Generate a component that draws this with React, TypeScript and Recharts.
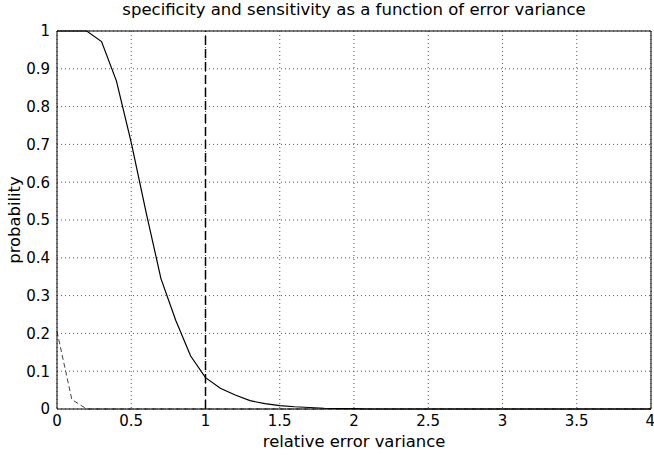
import { LineChart, Line, XAxis, YAxis, CartesianGrid, ReferenceLine, Label } from "recharts";

// relative error variance (x)
const variance = [
  0, 0.1, 0.2, 0.3, 0.4, 0.5, 0.6, 0.7, 0.8, 0.9,
  1, 1.1, 1.2, 1.3, 1.4, 1.5, 1.6, 1.7, 1.8, 1.9,
  2, 2.1, 2.2, 2.3, 2.4, 2.5, 2.6, 2.7, 2.8, 2.9,
  3, 3.1, 3.2, 3.3, 3.4, 3.5, 3.6, 3.7, 3.8, 3.9, 4,
];

// solid curve
const specificity = [
  1, 1, 1, 0.972, 0.868, 0.705, 0.52, 0.345, 0.234, 0.14,
  0.083, 0.055, 0.037, 0.022, 0.014, 0.009, 0.006, 0.004, 0.002, 0.001,
  0.001, 0, 0, 0, 0, 0, 0, 0, 0, 0,
  0, 0, 0, 0, 0, 0, 0, 0, 0, 0, 0,
];

// dashed curve
const sensitivity = [
  0.205, 0.025, 0, 0, 0, 0, 0, 0, 0, 0,
  0, 0, 0, 0, 0, 0, 0, 0, 0, 0,
  0, 0, 0, 0, 0, 0, 0, 0, 0, 0,
  0, 0, 0, 0, 0, 0, 0, 0, 0, 0, 0,
];

const xTicks = [0, 0.5, 1, 1.5, 2, 2.5, 3, 3.5, 4];
const yTicks = [0, 0.1, 0.2, 0.3, 0.4, 0.5, 0.6, 0.7, 0.8, 0.9, 1];

const data = variance.map((v, i) => ({
  v,
  spec: specificity[i],
  sens: sensitivity[i],
}));

const FONT = "'DejaVu Sans', sans-serif";

const YLabel = (props: any) => {
  const { x, y, height } = props.viewBox;
  const cx = x + 19.5;
  const cy = y + height / 2;
  return (
    <text
      x={cx}
      y={cy}
      transform={`rotate(-90 ${cx} ${cy})`}
      textAnchor="middle"
      fontFamily={FONT}
      fontSize={16.4}
      fill="#000"
    >
      probability
    </text>
  );
};

const XLabel = (props: any) => {
  const { x, y, width } = props.viewBox;
  return (
    <text
      x={x + width / 2}
      y={y + 38}
      textAnchor="middle"
      fontFamily={FONT}
      fontSize={16.4}
      fill="#000"
    >
      relative error variance
    </text>
  );
};

export default function App() {
  return (
    <div style={{ position: "absolute", left: 0, top: 0, width: 654, height: 455, background: "#fff" }}>
      <div
        style={{
          position: "absolute",
          left: 57,
          width: 594,
          top: 0,
          height: 20,
          lineHeight: "20px",
          textAlign: "center",
          fontFamily: FONT,
          fontSize: 16.5,
          color: "#000",
          whiteSpace: "nowrap",
        }}
      >
        specificity and sensitivity as a function of error variance
      </div>
      <LineChart width={654} height={455} data={data} margin={{ top: 31, right: 3, left: 0, bottom: 0 }}>
        <CartesianGrid stroke="#555" strokeDasharray="1 3" />
        <XAxis
          dataKey="v"
          type="number"
          domain={[0, 4]}
          ticks={xTicks}
          height={46}
          tickLine={false}
          tickSize={0}
          tickMargin={6}
          axisLine={{ stroke: "#000" }}
          tick={{ fill: "#000", fontSize: 15, fontFamily: FONT }}
        >
          <Label content={<XLabel />} />
        </XAxis>
        <YAxis
          type="number"
          domain={[0, 1]}
          ticks={yTicks}
          width={57}
          tickLine={false}
          tickSize={0}
          tickMargin={7}
          axisLine={{ stroke: "#000" }}
          tick={{ fill: "#000", fontSize: 15, fontFamily: FONT }}
        >
          <Label content={<YLabel />} />
        </YAxis>
        {/* inward tick marks and the box, as in the original */}
        <XAxis xAxisId="bt" type="number" domain={[0, 4]} ticks={xTicks} orientation="bottom" mirror tick={false} tickSize={6} axisLine={false} tickLine={{ stroke: "#000" }} />
        <XAxis xAxisId="tp" type="number" domain={[0, 4]} ticks={xTicks} orientation="top" mirror tick={false} tickSize={6} axisLine={{ stroke: "#000" }} tickLine={{ stroke: "#000" }} />
        <YAxis yAxisId="lt" type="number" domain={[0, 1]} ticks={yTicks} orientation="left" mirror tick={false} tickSize={6} axisLine={false} tickLine={{ stroke: "#000" }} />
        <YAxis yAxisId="rt" type="number" domain={[0, 1]} ticks={yTicks} orientation="right" mirror tick={false} tickSize={6} axisLine={{ stroke: "#000" }} tickLine={{ stroke: "#000" }} />
        <ReferenceLine x={1} stroke="#000" strokeWidth={1.5} strokeDasharray="9 4" />
        <Line
          dataKey="sens"
          type="linear"
          stroke="#444"
          strokeWidth={1}
          strokeDasharray="5 3"
          dot={false}
          isAnimationActive={false}
        />
        <Line
          dataKey="spec"
          type="linear"
          stroke="#000"
          strokeWidth={1.2}
          dot={false}
          isAnimationActive={false}
        />
      </LineChart>
    </div>
  );
}
